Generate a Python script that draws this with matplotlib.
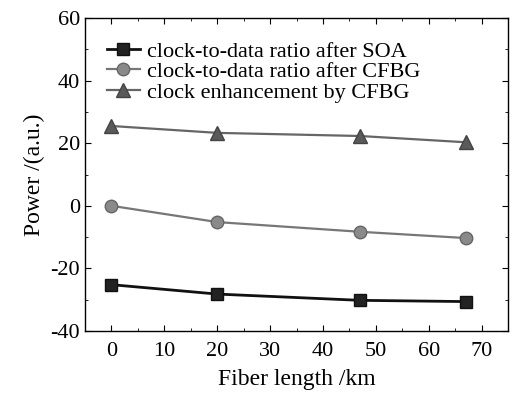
import numpy as np
import matplotlib
matplotlib.use("Agg")
import matplotlib.pyplot as plt
from matplotlib.ticker import MultipleLocator

plt.rcParams['font.family'] = ['Liberation Serif', 'DejaVu Serif']
plt.rcParams['axes.unicode_minus'] = False

fiber_km = [0, 20, 47, 67]
soa_ratio = [-25.2, -28.2, -30.2, -30.6]
cfbg_ratio = [0.0, -5.2, -8.3, -10.3]
clock_enh = [25.5, 23.3, 22.3, 20.3]

fig = plt.figure(figsize=(5.12, 3.96), dpi=100)
ax = fig.add_axes([85/512, 1 - 331/396, (508-85)/512, (331-18)/396])

ax.plot(fiber_km, soa_ratio, color='#111111', lw=2.0, marker='s', ms=8,
        mfc='#222222', mec='#111111', label='clock-to-data ratio after SOA')
ax.plot(fiber_km, cfbg_ratio, color='#777777', lw=1.6, marker='o', ms=9,
        mfc='#8a8a8a', mec='#666666', label='clock-to-data ratio after CFBG')
ax.plot(fiber_km, clock_enh, color='#666666', lw=1.6, marker='^', ms=10,
        mfc='#5a5a5a', mec='#444444', label='clock enhancement by CFBG')

ax.set_xlim(-5, 75)
ax.set_ylim(-40, 60)
ax.xaxis.set_major_locator(MultipleLocator(10))
ax.xaxis.set_minor_locator(MultipleLocator(5))
ax.yaxis.set_major_locator(MultipleLocator(20))
ax.yaxis.set_minor_locator(MultipleLocator(10))
ax.tick_params(which='both', direction='in', top=True, right=True, labelsize=16)
ax.tick_params(which='major', length=4)
ax.tick_params(which='minor', length=2.5)
ax.tick_params(axis='x', pad=8)
for s in ax.spines.values():
    s.set_linewidth(1.0)

ax.set_xlabel('Fiber length /km', fontsize=17, labelpad=6)
ax.set_ylabel('Power /(a.u.)', fontsize=17, labelpad=4)

ax.legend(loc='upper left', frameon=False, fontsize=16, handlelength=1.5,
          handletextpad=0.3, labelspacing=0.0, borderaxespad=0.0,
          bbox_to_anchor=(0.03, 0.955))

fig.savefig('out.png', dpi=100)
